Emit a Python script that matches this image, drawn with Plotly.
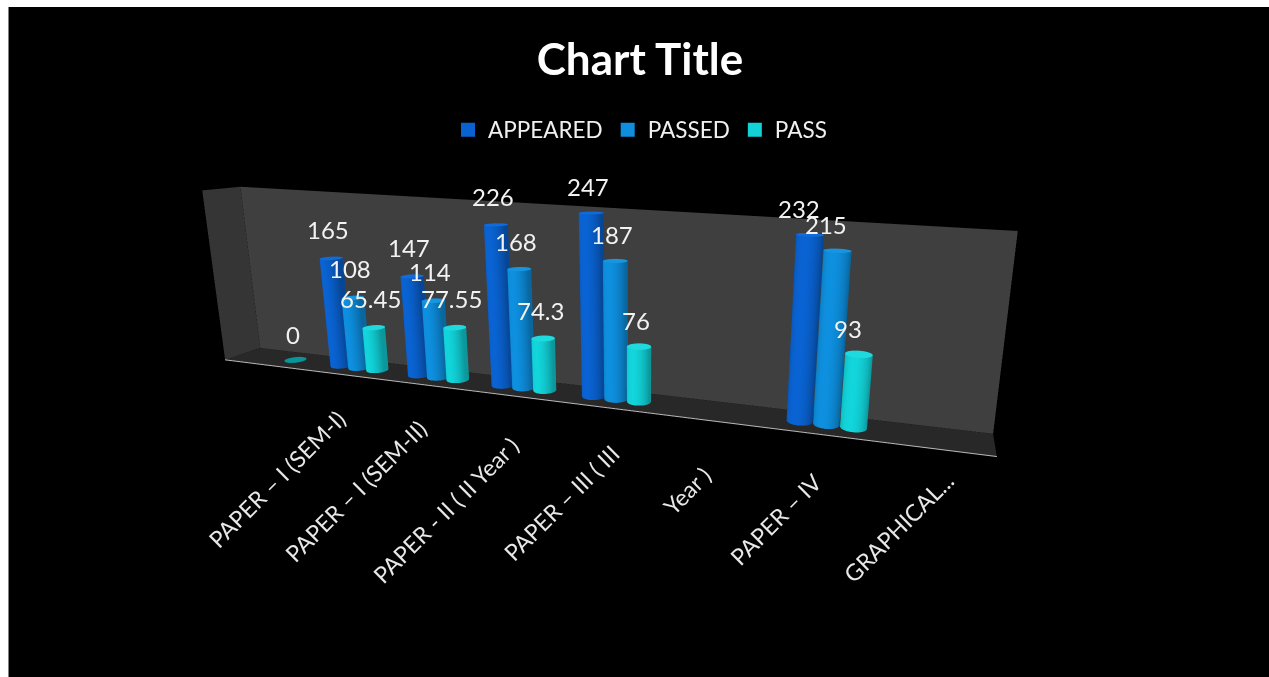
import math
import plotly.graph_objects as go

categories = ["PAPER – I (SEM-I)", "PAPER – I (SEM-II)", "PAPER - II ( II Year )", "PAPER – III ( III",
              "Year )", "PAPER – IV", "GRAPHICAL...", ""]
appeared = [None, 165, 147, 226, 247, None, 232, None]
passed = [None, 108, 114, 168, 187, None, 215, None]
pass_pct = [0, 65.45, 77.55, 74.3, 76, None, 93, None]
series_names = ["APPEARED", "PASSED", "PASS"]
series_colors = [(10, 98, 208), (14, 142, 220), (18, 210, 216)]
series_caps = [(16, 108, 218), (22, 150, 224), (30, 218, 222)]

label_dx = [2, 2, 6, 10, -4, -8, -3, 0]
label_dy = [2, 2, -4, 0, -8, 0, 17, 0]
value_dx = [0, 0, 0, 0, 0, 0, -8, 0]
value_dy = [0, 3, 3, 2, 0, 0, 0, 0]

AX = 3.06; AY = 0.2; AZ = 0.69
ZMAX = 250
NC = len(categories)
OFFSET = 0.235
GROUP_SHIFT = 0.12
RX = 0.115
RY = RX * (AX / NC) / AY


def rgb(c, f=1.0):
    return "rgb(%d,%d,%d)" % tuple(min(255, int(v * f)) for v in c)


def cylinder(xc, yc, h, col, cap):
    n = 32
    X, Y, Z, C, I, J, K = [], [], [], [], [], [], []
    for z in (0, h):
        for t in range(n):
            a = 2 * math.pi * t / n
            X.append(xc + RX * math.cos(a)); Y.append(yc + RY * math.sin(a)); Z.append(z)
            facing = max(0.0, -math.sin(a + 0.25))
            C.append(rgb(col, 0.72 + 0.30 * facing))
    for t in range(n):
        u = (t + 1) % n
        I += [t, u]; J += [u, u + n]; K += [t + n, t + n]
    base = len(X)
    for t in range(n):
        a = 2 * math.pi * t / n
        X.append(xc + RX * math.cos(a)); Y.append(yc + RY * math.sin(a)); Z.append(h)
        C.append(rgb(cap))
    X.append(xc); Y.append(yc); Z.append(h); C.append(rgb(cap))
    for t in range(n):
        I.append(base + t); J.append(base + (t + 1) % n); K.append(base + n)
    return go.Mesh3d(x=X, y=Y, z=Z, i=I, j=J, k=K, vertexcolor=C, flatshading=False,
                     lighting=dict(ambient=1, diffuse=0, specular=0, fresnel=0),
                     hoverinfo="skip", showscale=False)


def quad(x, y, z, color):
    return go.Mesh3d(x=x, y=y, z=z, i=[0, 0], j=[1, 2], k=[2, 3], color=color, flatshading=True,
                     lighting=dict(ambient=1, diffuse=0, specular=0, fresnel=0), hoverinfo="skip")


WALL_L = 261
WALL_R = 242
fig = go.Figure()
fig.add_trace(quad([0, NC, NC, 0], [1, 1, 1, 1], [0, 0, WALL_R, WALL_L], "#3f3f3f"))
fig.add_trace(quad([0, 0, 0, 0], [0, 1, 1, 0], [0, 0, WALL_L, WALL_L], "#353535"))
fig.add_trace(quad([0, NC, NC, 0], [0, 0, 1, 1], [0, 0, 0, 0], "#282828"))
fig.add_trace(go.Scatter3d(x=[0, NC], y=[0, 0], z=[0, 0], mode="lines",
                           line=dict(color="#b8b8b8", width=2), showlegend=False, hoverinfo="skip"))

annots = []
all_series = [appeared, passed, pass_pct]
for s, vals in enumerate(all_series):
    for i, v in enumerate(vals):
        if v is None:
            continue
        xc = i + 0.5 + GROUP_SHIFT + (s - 1) * OFFSET
        if v == 0:
            fig.add_trace(cylinder(xc - 0.1, 0.5, 0.6, (8, 130, 140), (8, 150, 155)))
        else:
            fig.add_trace(cylinder(xc, 0.5, v, series_colors[s], series_caps[s]))
        annots.append(dict(x=xc - (0.1 if v == 0 else 0), y=0.5, z=v, text=str(v), showarrow=False,
                           xshift=-3 + value_dx[i], yshift=26 + value_dy[i],
                           font=dict(family="Lato", size=24, color="#f2f2f2")))

for i, c in enumerate(categories):
    if c:
        annots.append(dict(x=0.8 + 1.07 * i, y=0, z=0, text=c, showarrow=False, textangle=-45,
                           xanchor="right", yanchor="top", xshift=70 + label_dx[i], yshift=-37 + label_dy[i],
                           font=dict(family="Lato", size=23, color="#e8e8e8")))

for name, col in zip(series_names, series_colors):
    fig.add_trace(go.Scatter(x=[None], y=[None], mode="markers", name=name,
                             marker=dict(symbol="square", size=14, color=rgb(col))))

fig.update_layout(
    width=1269, height=677, margin=dict(l=0, r=0, t=0, b=0),
    paper_bgcolor="white", plot_bgcolor="rgba(0,0,0,0)",
    shapes=[dict(type="rect", xref="paper", yref="paper", x0=8.5 / 1269, x1=1, y0=0, y1=1 - 7 / 677,
                 fillcolor="black", line=dict(width=0), layer="below"),
            dict(type="line", xref="paper", yref="paper", x0=8.5 / 1269, x1=8.5 / 1269, y0=0, y1=1 - 7 / 677,
                 line=dict(color="#808080", width=1), layer="below")],
    title=dict(text="<b>Chart Title</b>", x=640 / 1269, xanchor="center", y=1 - 60 / 677, yanchor="middle",
               font=dict(family="Lato", size=44, color="white")),
    legend=dict(orientation="h", x=640 / 1269, xanchor="center", y=1 - 130 / 677, yanchor="middle",
                font=dict(family="Lato", size=22.5, color="#f0f0f0"), bgcolor="rgba(0,0,0,0)"),
    xaxis=dict(visible=False), yaxis=dict(visible=False),
    scene=dict(
        domain=dict(x=[0, 1], y=[0, 1]),
        bgcolor="rgba(0,0,0,0)",
        aspectmode="manual", aspectratio=dict(x=AX, y=AY, z=AZ * 1.1),
        xaxis=dict(visible=False, range=[0, NC]),
        yaxis=dict(visible=False, range=[0, 1]),
        zaxis=dict(visible=False, range=[0, ZMAX * 1.1]),
        camera=dict(eye=dict(x=1.28, y=-2.67, z=0.6205),
                    center=dict(x=0.29, y=0.054, z=-0.1565),
                    up=dict(x=0, y=0, z=1),
                    projection=dict(type="perspective")),
        annotations=annots,
    ),
)
fig.write_html("out.html", config=dict(displayModeBar=False),
               post_script="document.body.style.margin='0';document.documentElement.style.overflow='hidden';")
